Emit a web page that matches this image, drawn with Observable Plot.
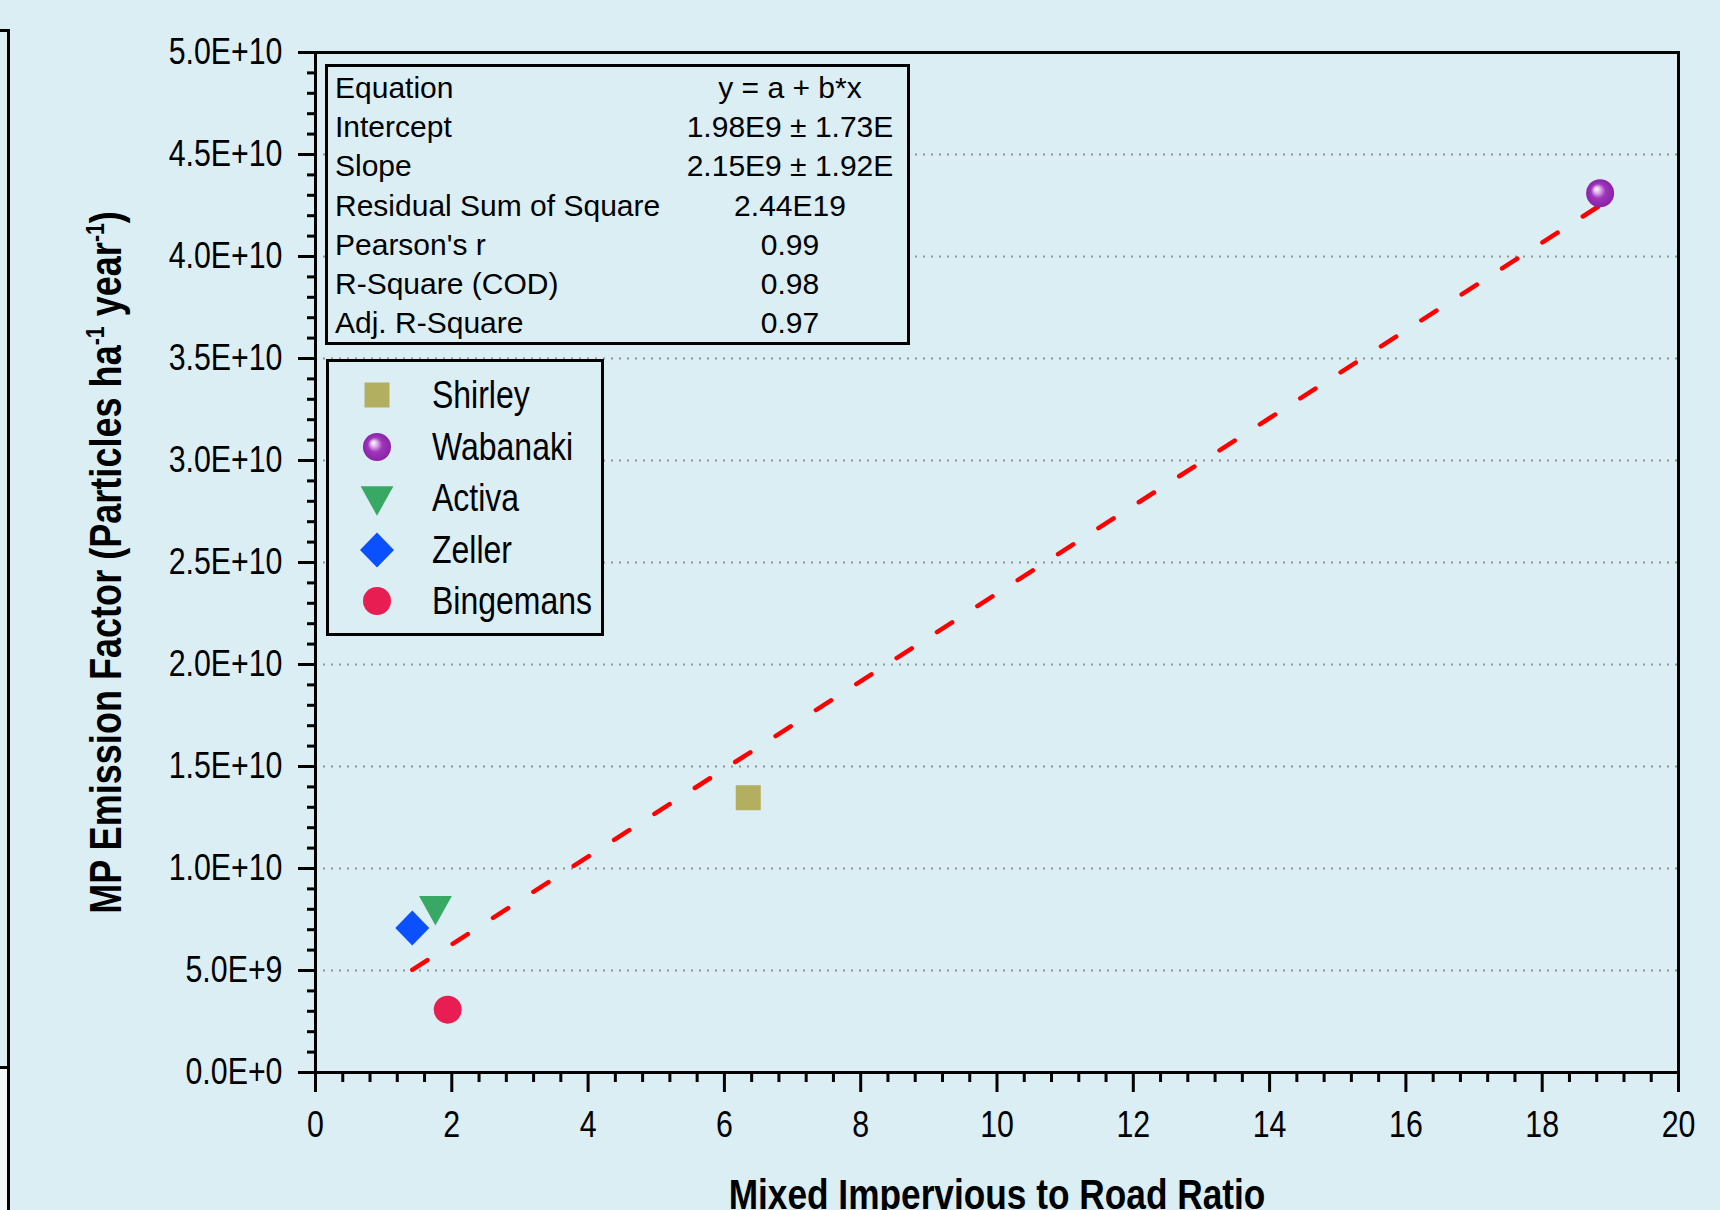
<!DOCTYPE html>
<html><head><meta charset="utf-8">
<script src="https://cdn.jsdelivr.net/npm/d3@7"></script>
<script src="https://cdn.jsdelivr.net/npm/@observablehq/plot@0.6"></script>
<style>
html,body{margin:0;padding:0;background:#dbeef4;}
#wrap{position:relative;width:1720px;height:1210px;overflow:hidden;background:#dbeef4;}
#chart{position:absolute;left:0;top:0;}
.box{position:absolute;box-sizing:border-box;border:3px solid #000;background:#dbeef4;}
.stat{position:absolute;font-family:"Liberation Sans",Arial,sans-serif;font-size:30px;line-height:40px;height:40px;color:#000;white-space:nowrap;}
.leg{position:absolute;font-size:39px;line-height:44px;height:44px;color:#000;white-space:nowrap;transform-origin:0 50%;}
.deco{position:absolute;background:#000;}
</style></head>
<body><div id="wrap"><div id="chart"></div>
<div class="deco" style="left:7px;top:29px;width:3px;height:1181px"></div>
<div class="deco" style="left:0;top:29px;width:10px;height:3px"></div>
<div class="deco" style="left:0;top:1066px;width:10px;height:3px"></div>
<div style="position:absolute;left:0;top:1069px;width:7px;height:141px;background:#f3f9fb"></div>
<div id="stats" class="box" style="left:325px;top:64px;width:585px;height:281px"></div>
<div id="legend" class="box" style="left:326px;top:359px;width:278px;height:277px"></div>
</div>
<script>
// ---- data ----
const sites = ["Shirley", "Wabanaki", "Activa", "Zeller", "Bingemans"];
const ratio = [6.35, 18.85, 1.76, 1.42, 1.94];
const emission = [13.47e9, 43.1e9, 7.93e9, 7.08e9, 3.08e9];
const fitIntercept = 1.98e9;
const fitSlope = 2.15e9;
const statsLabels = ["Equation", "Intercept", "Slope", "Residual Sum of Square", "Pearson's r", "R-Square (COD)", "Adj. R-Square"];
const statsValues = ["y = a + b*x", "1.98E9 ± 1.73E", "2.15E9 ± 1.92E", "2.44E19", "0.99", "0.98", "0.97"];
const xTicks = [0, 2, 4, 6, 8, 10, 12, 14, 16, 18, 20];
const xTickLabels = ["0", "2", "4", "6", "8", "10", "12", "14", "16", "18", "20"];
const yTicks = [0, 5e9, 1e10, 1.5e10, 2e10, 2.5e10, 3e10, 3.5e10, 4e10, 4.5e10, 5e10];
const yTickLabels = ["0.0E+0", "5.0E+9", "1.0E+10", "1.5E+10", "2.0E+10", "2.5E+10", "3.0E+10", "3.5E+10", "4.0E+10", "4.5E+10", "5.0E+10"];
const xTitle = "Mixed Impervious to Road Ratio";
const yTitle = "MP Emission Factor (Particles ha-1 year-1)";

// ---- fonts ----
function hasFont(name) {
  const ctx = document.createElement("canvas").getContext("2d");
  const s = "5.0E+10 Wabanaki Mixed";
  ctx.font = "40px monospace"; const a = ctx.measureText(s).width;
  ctx.font = `40px "${name}", monospace`; const b = ctx.measureText(s).width;
  return Math.abs(a - b) > 0.5;
}
const narrowOK = hasFont("Liberation Sans Narrow");
const NARROW = narrowOK ? '"Liberation Sans Narrow", "Liberation Sans", Arial, sans-serif' : '"Liberation Sans", Arial, sans-serif';
const SQ = narrowOK ? 1 : 0.82;

// ---- symbols ----
const rad = (size) => Math.sqrt(size / Math.PI);
const symSquare = {draw(c, s) { const r = rad(s); c.moveTo(-r, -r); c.lineTo(r, -r); c.lineTo(r, r); c.lineTo(-r, r); c.closePath(); }};
const symDiamond = {draw(c, s) { const r = rad(s); c.moveTo(0, -r); c.lineTo(r * 0.97, 0); c.lineTo(0, r); c.lineTo(-r * 0.97, 0); c.closePath(); }};
const symTriDown = {draw(c, s) { const r = rad(s), h = 0.9 * r; c.moveTo(-r, -h); c.lineTo(r, -h); c.lineTo(0, h); c.closePath(); }};
const symCircle = {draw(c, s) { const r = rad(s); c.moveTo(r, 0); c.arc(0, 0, r, 0, 2 * Math.PI); c.closePath(); }};

const STYLE = {
  Shirley:   {symbol: symSquare,  fill: "#b2af61", r: 12.5},
  Wabanaki:  {symbol: symCircle,  fill: "url(#sphere)", legendFill: "url(#sphereL)", r: 14},
  Activa:    {symbol: symTriDown, fill: "#38a965", r: 16.4},
  Zeller:    {symbol: symDiamond, fill: "#0a50ff", r: 17.5},
  Bingemans: {symbol: symCircle,  fill: "#e81e52", r: 14}
};
const gradient = (id) => `<radialGradient id="${id}" cx="0.5" cy="0.5" r="0.5" fx="0.36" fy="0.34">
 <stop offset="0" stop-color="#ffffff"/><stop offset="0.2" stop-color="#e6bdf0"/>
 <stop offset="0.52" stop-color="#9e36bc"/><stop offset="1" stop-color="#8a22a6"/></radialGradient>`;

// ---- plot ----
const points = sites.map((s, i) => ({site: s, x: ratio[i], y: emission[i]}));
const fit = [d3.min(ratio), d3.max(ratio)].map(x => ({x, y: fitIntercept + fitSlope * x}));
const yMinor = d3.range(0, 51).filter(i => i % 5).map(i => i * 1e9);
const xMinor = d3.range(0, 51).filter(i => i % 5).map(i => i * 0.4);

const plot = Plot.plot({
  width: 1720, height: 1210,
  marginLeft: 315, marginRight: 42, marginTop: 52, marginBottom: 138,
  x: {domain: [0, 20]},
  y: {domain: [0, 5e10]},
  style: {background: "transparent", color: "#000", overflow: "visible"},
  marks: [
    Plot.ruleY(yTicks.slice(1, -1), {stroke: "#8f9496", strokeWidth: 2, strokeDasharray: "2,6"}),
    Plot.axisY({ticks: yMinor, tickSize: 8, tickFormat: () => "", strokeWidth: 3, label: null}),
    Plot.axisY({ticks: yTicks, tickSize: 17, tickPadding: 16, strokeWidth: 3, label: null,
      tickFormat: d => yTickLabels[yTicks.indexOf(d)], fontSize: 37, fontFamily: NARROW, fill: "#000"}),
    Plot.axisX({ticks: xMinor, tickSize: 10, tickFormat: () => "", strokeWidth: 3, label: null}),
    Plot.axisX({ticks: xTicks, tickSize: 20, tickPadding: 18, strokeWidth: 3, label: null,
      tickFormat: d => xTickLabels[xTicks.indexOf(d)], fontSize: 37, fontFamily: NARROW, fill: "#000"}),
    Plot.line(fit, {x: "x", y: "y", stroke: "#ff0000", strokeWidth: 4.5, strokeDasharray: "18,30", strokeLinecap: "round"}),
    ...sites.map((s, i) => Plot.dot([points[i]], {x: "x", y: "y", r: STYLE[s].r, symbol: STYLE[s].symbol, fill: STYLE[s].fill, stroke: "none"})),
    Plot.frame({stroke: "#000", strokeWidth: 3}),
    Plot.text([yTitle], {frameAnchor: "left", textAnchor: "middle", lineAnchor: "middle", rotate: -90, dx: -209,
      fontSize: 44, fontWeight: "bold", fontFamily: NARROW, fill: "#000"}),
    Plot.text([xTitle], {frameAnchor: "bottom", textAnchor: "middle", lineAnchor: "middle", dy: 123,
      fontSize: 43, fontWeight: "bold", fontFamily: NARROW, fill: "#000"})
  ]
});
const svgEl = plot.tagName.toLowerCase() === "svg" ? plot : plot.querySelector("svg");
const defs = document.createElementNS("http://www.w3.org/2000/svg", "defs");
defs.innerHTML = gradient("sphere");
svgEl.insertBefore(defs, svgEl.firstChild);

// superscripts in the y title
const yt = [...svgEl.querySelectorAll("text")].find(e => e.textContent === yTitle);
if (yt) {
  yt.textContent = "";
  const parts = [["MP Emission Factor (Particles ha", 0], ["-1", 1], [" year", 0], ["-1", 1], [")", 0]];
  let up = false;
  for (const [txt, sup] of parts) {
    const ts = document.createElementNS("http://www.w3.org/2000/svg", "tspan");
    ts.textContent = txt;
    if (sup) { ts.setAttribute("font-size", "26"); ts.setAttribute("dy", "-17"); up = true; }
    else if (up) { ts.setAttribute("dy", "17"); up = false; }
    yt.appendChild(ts);
  }
}
// condense the axis texts when no narrow face is installed
if (!narrowOK) {
  svgEl.querySelectorAll("text").forEach(t => {
    const tr = t.getAttribute("transform") || "";
    t.setAttribute("transform", (tr + ` scale(${SQ},1)`).trim());
  });
}
document.getElementById("chart").appendChild(plot);

// ---- stats box ----
const stats = document.getElementById("stats");
statsLabels.forEach((lab, i) => {
  const c = 24 + 39.2 * i - 3;
  const a = document.createElement("div"); a.className = "stat";
  a.style.left = "7px"; a.style.top = (c - 20) + "px"; a.textContent = lab; stats.appendChild(a);
  const b = document.createElement("div"); b.className = "stat";
  b.style.left = (462 - 150) + "px"; b.style.width = "300px"; b.style.textAlign = "center";
  b.style.top = (c - 20) + "px"; b.textContent = statsValues[i]; stats.appendChild(b);
});

// ---- legend ----
const legend = document.getElementById("legend");
sites.forEach((s, i) => {
  const c = 36 + 51.5 * i - 3;
  const st = STYLE[s];
  const sv = d3.create("svg").attr("width", 44).attr("height", 44)
    .style("position", "absolute").style("left", (50.7 - 3 - 22) + "px").style("top", (c - 22 + (s === "Activa" ? 3 : 0)) + "px");
  if (s === "Wabanaki") sv.append("defs").html(gradient("sphereL"));
  sv.append("path").attr("transform", "translate(22,22)")
    .attr("d", d3.symbol(st.symbol, st.r * st.r * Math.PI)())
    .attr("fill", st.legendFill || st.fill);
  legend.appendChild(sv.node());
  const t = document.createElement("div"); t.className = "leg";
  t.style.fontFamily = NARROW;
  t.style.left = (105.7 - 3) + "px"; t.style.top = (c - 22) + "px";
  if (!narrowOK) t.style.transform = `scaleX(${SQ})`;
  t.textContent = s; legend.appendChild(t);
});
</script>
</body></html>
